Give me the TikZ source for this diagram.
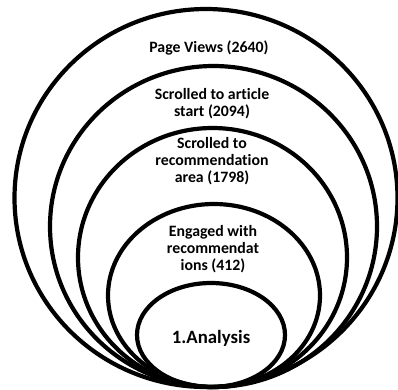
\documentclass[tikz,border=0pt]{standalone}
\usepackage{fontspec}
\setmainfont{Carlito}[Ligatures=NoCommon]
\usetikzlibrary{shapes.geometric}
\tikzset{
	ring/.style={draw,ellipse,line width=4.2pt,inner sep=0pt},
	lbl/.style={font=\fontsize{15.8}{17}\selectfont\bfseries,align=center}
}
\begin{document}
\begin{tikzpicture}[x=1pt,y=-1pt]
	\useasboundingbox (0,0) rectangle (398,389);
	% nested rings, all touching at the bottom
	\node[ring,minimum width=383pt,minimum height=378pt] (views) at (206,198) {};
	\node[ring,minimum width=327pt,minimum height=321pt] (start) at (213.5,226.5) {};
	\node[ring,minimum width=269pt,minimum height=259pt] (area) at (212.5,257.5) {};
	\node[ring,minimum width=212pt,minimum height=183pt] (engaged) at (214,295.5) {};
	\node[ring,minimum width=148pt,minimum height=104pt] (analysis) at (211,335) {};
	% labels
	\node[lbl] (viewslbl) at (209,48) {Page Views (2640)};
	\node[lbl] (startlbl) at (212,104) {Scrolled to article\\start (2094)};
	\node[lbl] (arealbl) at (212,161) {Scrolled to\\recommendation\\area (1798)};
	\node[lbl] (engagedlbl) at (213,249) {Engaged with\\recommendat\\ions (412)};
	\node[lbl,font=\fontsize{18.8}{20}\selectfont\bfseries] (analysislbl) at (211,338) {1.Analysis};
\end{tikzpicture}
\end{document}
